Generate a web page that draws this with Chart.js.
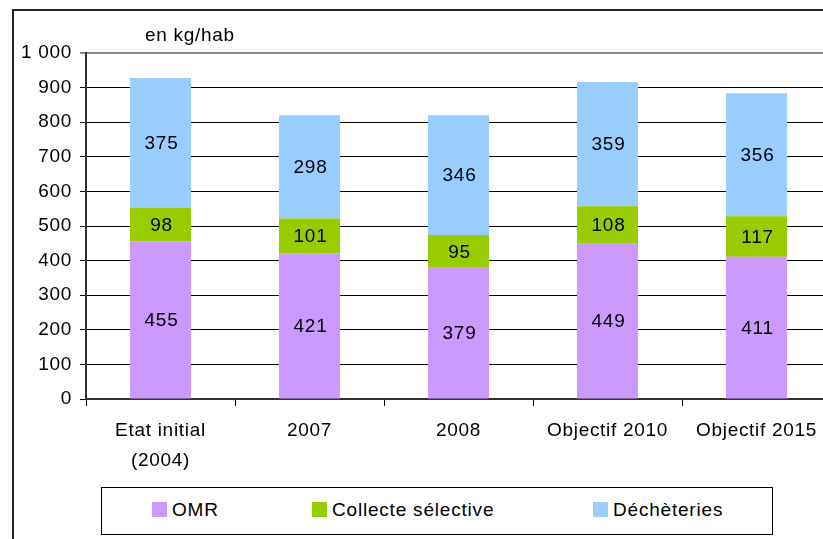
<!DOCTYPE html>
<html>
<head>
<meta charset="utf-8">
<script src="https://cdn.jsdelivr.net/npm/chart.js@4.4.0/dist/chart.umd.min.js"></script>
<style>
  html, body { margin: 0; padding: 0; background: #fff; overflow: hidden; width: 823px; height: 539px; }
  #frame { position: absolute; left: 12px; top: 9px; width: 900px; height: 600px; border: 2px solid #222; box-sizing: border-box; }
  #wrap { position: absolute; left: 0; top: 0; }
  #legend { position: absolute; left: 101px; top: 487px; width: 672px; height: 48px; border: 1px solid #000; box-sizing: border-box; background: #fff;
            font-family: "Liberation Sans", Arial, sans-serif; font-size: 19px; letter-spacing: 0.8px; color: #000; }
  .item { position: absolute; top: 11px; white-space: nowrap; }
  .sw { display: inline-block; width: 15px; height: 15px; margin-right: 5px; vertical-align: -1px; }
</style>
</head>
<body>
<div id="frame"></div>
<div id="wrap"><canvas id="chart" width="840" height="539"></canvas></div>
<div id="legend"></div>
<script>
var categories = [["Etat initial", "(2004)"], "2007", "2008", "Objectif 2010", "Objectif 2015"];
var seriesNames = ["OMR", "Collecte sélective", "Déchèteries"];
var seriesColors = ["#CC99FF", "#99CC00", "#99CCFF"];
var omr = [455, 421, 379, 449, 411];
var collecte = [98, 101, 95, 108, 117];
var decheteries = [375, 298, 346, 359, 356];
var yTicks = [0, 100, 200, 300, 400, 500, 600, 700, 800, 900, 1000];

var font = "Liberation Sans, Arial, sans-serif";
var spacing = "0.7px";

// excel text is wider than arial, spread the letters a bit
var wideText = {
    id: "wideText",
    beforeUpdate: function(chart) { chart.ctx.letterSpacing = spacing; },
    beforeDraw: function(chart) { chart.ctx.letterSpacing = spacing; }
};

// values written inside each segment
var valueLabels = {
    id: "valueLabels",
    afterDatasetsDraw: function(chart) {
        var ctx = chart.ctx;
        ctx.save();
        ctx.font = "19px " + font;
        ctx.letterSpacing = spacing;
        ctx.fillStyle = "#000";
        ctx.textAlign = "center";
        ctx.textBaseline = "middle";
        chart.data.datasets.forEach(function(ds, i) {
            var meta = chart.getDatasetMeta(i);
            meta.data.forEach(function(bar, j) {
                var mid = (bar.y + bar.base) / 2;
                ctx.fillText(String(ds.data[j]), bar.x + 1, mid + 1);
            });
        });
        // unit above the axis
        ctx.textAlign = "left";
        ctx.fillText("en kg/hab", 145, 36);
        ctx.restore();
    }
};

var ctx = document.getElementById("chart");

var graph_data = {
    labels: categories,
    datasets: [
        { label: seriesNames[0], data: omr, backgroundColor: seriesColors[0] },
        { label: seriesNames[1], data: collecte, backgroundColor: seriesColors[1] },
        { label: seriesNames[2], data: decheteries, backgroundColor: seriesColors[2] }
    ]
};

var options = {
    responsive: false,
    animation: false,
    devicePixelRatio: 1,
    layout: { padding: { left: 0, right: 9, top: 53, bottom: 0 } },
    datasets: { bar: { categoryPercentage: 1, barPercentage: 0.41 } },
    plugins: { legend: { display: false }, tooltip: { enabled: false } },
    scales: {
        x: {
            stacked: true,
            grid: { drawOnChartArea: false, color: "#000", tickLength: 7, offset: true },
            border: { color: "#333", width: 2 },
            ticks: { color: "#000", font: { family: font, size: 19, lineHeight: 1.58 }, padding: 10, maxRotation: 0, autoSkip: false },
            afterFit: function(scale) { scale.height = 140; }
        },
        y: {
            stacked: true,
            min: 0,
            max: 1000,
            afterBuildTicks: function(scale) {
                scale.ticks = yTicks.map(function(v) { return { value: v }; });
            },
            grid: {
                color: function(c) { return c.tick && c.tick.value === 1000 ? "#888" : "#000"; },
                lineWidth: function(c) { return c.tick && c.tick.value === 1000 ? 2 : 1; },
                tickLength: 6
            },
            border: { color: "#333", width: 2 },
            ticks: {
                color: "#000",
                font: { family: font, size: 19 },
                padding: 8,
                callback: function(v) { return String(v).replace(/\B(?=(\d{3})+(?!\d))/g, " "); }
            },
            afterFit: function(scale) { scale.width = 86; }
        }
    }
};

var chart = new Chart(ctx, { type: "bar", data: graph_data, options: options, plugins: [wideText, valueLabels] });

// legend box
var legend = document.getElementById("legend");
var itemLeft = [50, 210, 491];
seriesNames.forEach(function(name, i) {
    var d = document.createElement("div");
    d.className = "item";
    d.style.left = itemLeft[i] + "px";
    d.innerHTML = '<span class="sw" style="background:' + seriesColors[i] + '"></span>' + name;
    legend.appendChild(d);
});
</script>
</body>
</html>
